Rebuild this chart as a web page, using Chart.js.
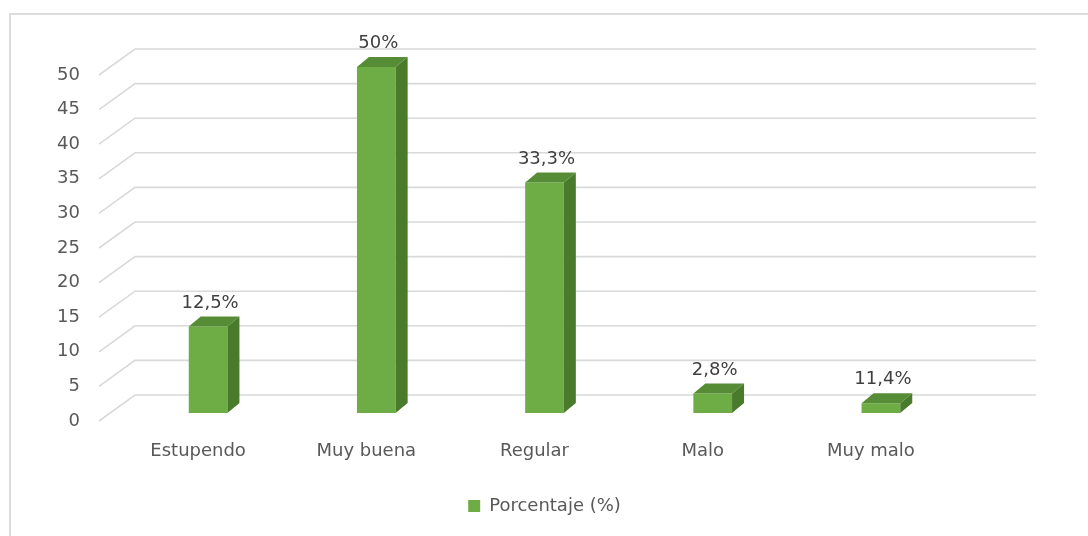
<!DOCTYPE html>
<html>
<head>
<meta charset="utf-8">
<script src="https://cdn.jsdelivr.net/npm/chart.js@4"></script>
<style>
  body { margin: 0; background: #fff; overflow: hidden; }
  .frame { position: absolute; left: 9px; top: 13px; width: 1200px; height: 600px;
           border-left: 2px solid #dcdcdc; border-top: 2px solid #dcdcdc; }
  canvas { position: absolute; left: 0; top: 0; }
</style>
</head>
<body>
<div class="frame"></div>
<canvas id="myChart" width="1088" height="536"></canvas>
<script>
const categories = ['Estupendo', 'Muy buena', 'Regular', 'Malo', 'Muy malo'];
const values = [12.5, 50, 33.3, 2.8, 1.4];
const valueLabels = ['12,5%', '50%', '33,3%', '2,8%', '11,4%'];
const seriesName = 'Porcentaje (%)';

const front = '#6eac46';
const topFace = '#578c36';
const sideFace = '#4a7a2b';
const gridColor = '#d9d9d9';
const textColor = '#595959';
const font = 'DejaVu Sans';

// depth of the bars and of the back wall
const barDx = 12, barDy = 10;

const bars3d = {
	id: 'bars3d',
	beforeDatasetsDraw(chart) {
		const { ctx, chartArea, scales } = chart;
		ctx.save();
		ctx.strokeStyle = gridColor;
		ctx.lineWidth = 1.6;
		scales.y.ticks.forEach(t => {
			const y = scales.y.getPixelForValue(t.value);
			ctx.beginPath();
			ctx.moveTo(chartArea.left - 25, y + 8);
			ctx.lineTo(chartArea.left + 11, y - 18);
			ctx.lineTo(chartArea.right + 71, y - 18);
			ctx.stroke();
		});
		ctx.restore();
	},
	afterDatasetsDraw(chart) {
		const { ctx } = chart;
		const meta = chart.getDatasetMeta(0);
		ctx.save();
		meta.data.forEach((bar, i) => {
			const l = bar.x - bar.width / 2;
			const r = bar.x + bar.width / 2;
			const y = bar.y;
			const b = bar.base;
			ctx.fillStyle = topFace;
			ctx.beginPath();
			ctx.moveTo(l, y);
			ctx.lineTo(r, y);
			ctx.lineTo(r + barDx, y - barDy);
			ctx.lineTo(l + barDx, y - barDy);
			ctx.closePath();
			ctx.fill();
			ctx.fillStyle = sideFace;
			ctx.beginPath();
			ctx.moveTo(r, y);
			ctx.lineTo(r, b);
			ctx.lineTo(r + barDx, b - barDy);
			ctx.lineTo(r + barDx, y - barDy);
			ctx.closePath();
			ctx.fill();

			ctx.fillStyle = '#404040';
			ctx.font = '18px "' + font + '"';
			ctx.textAlign = 'center';
			ctx.textBaseline = 'alphabetic';
			ctx.fillText(valueLabels[i], bar.x + 2, y - 19);
		});
		ctx.restore();
	}
};

const ctx = document.getElementById('myChart').getContext('2d');
let myChart = new Chart(ctx, {
	type: 'bar',
	data: {
		labels: categories,
		datasets: [
			{
				label: seriesName,
				data: values,
				backgroundColor: front,
				borderWidth: 0,
				categoryPercentage: 1,
				barPercentage: 0.23
			}
		]
	},
	options: {
		responsive: false,
		animation: false,
		devicePixelRatio: 1,
		layout: { padding: { left: 57, right: 123, top: 67, bottom: 11 } },
		plugins: {
			tooltip: { enabled: false },
			legend: {
				position: 'bottom',
				fullSize: false,
				labels: {
					color: textColor,
					font: { family: font, size: 18 },
					boxWidth: 12,
					boxHeight: 12,
					padding: 12
				}
			}
		},
		scales: {
			x: {
				grid: { display: false, drawTicks: false },
				border: { display: false },
				afterFit: s => { s.height = 72; },
				ticks: {
					color: textColor,
					font: { family: font, size: 18 },
					labelOffset: -10,
					padding: 28
				}
			},
			y: {
				min: 0,
				max: 50,
				grid: { display: false, drawTicks: false },
				border: { display: false },
				afterFit: s => { s.width = 67; },
				ticks: {
					stepSize: 5,
					color: textColor,
					font: { family: font, size: 18 },
					labelOffset: 8,
					padding: 44
				}
			}
		}
	},
	plugins: [bars3d]
});
</script>
</body>
</html>
